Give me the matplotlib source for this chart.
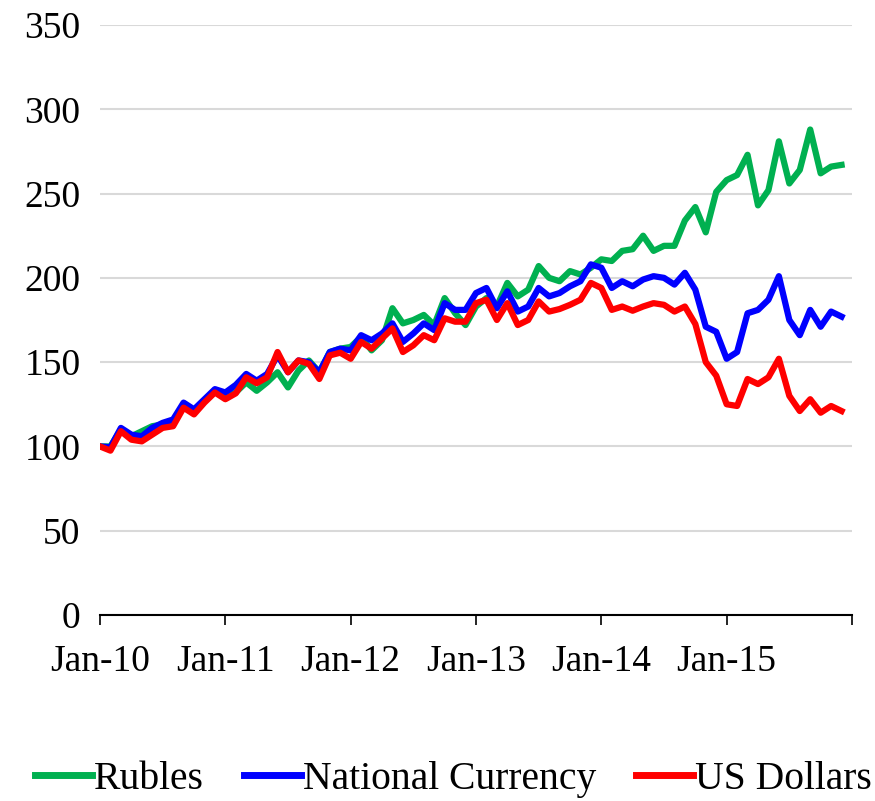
import matplotlib.pyplot as plt
import numpy as np

# monthly index values, Jan-10 .. Dec-15
rubles = [100, 100, 110, 106, 109, 112, 113, 114, 124, 121, 127, 133,
          129, 132, 138, 133, 138, 144, 135, 145, 151, 144, 156, 158,
          159, 165, 157, 163, 182, 173, 175, 178, 172, 188, 179, 172,
          183, 188, 183, 197, 189, 193, 207, 200, 198, 204, 202, 206,
          211, 210, 216, 217, 225, 216, 219, 219, 234, 242, 227, 251,
          258, 261, 273, 243, 252, 281, 256, 264, 288, 262, 266, 267]
national = [100, 99.5, 111, 107, 106, 111, 114, 116, 126, 122, 128, 134,
            132, 136.5, 143, 139, 143, 154, 144, 151, 150, 144, 156, 158,
            157, 166, 163, 167, 173, 162, 167, 173, 169, 185, 181, 181,
            191, 194, 182, 192, 180, 183, 194, 189, 191, 195, 198, 208,
            206, 194, 198, 195, 199, 201, 200, 196, 203, 193, 171, 168,
            152, 156, 179, 181, 187, 201, 175, 166, 181, 171, 180, 177]
dollars = [100, 97.5, 109, 104, 103, 107, 111, 112, 123, 119, 126, 132,
           128, 131.5, 141, 137.5, 141, 156, 144, 151, 149, 140, 154, 155.6,
           152, 162, 158, 164, 170, 156, 160, 166, 163, 176, 174, 174,
           185, 187, 175, 185, 172, 175, 186, 180, 181.5, 184, 187, 197,
           194, 181, 183, 180.5, 183, 185, 184, 180, 183, 172.6, 150, 142,
           125, 124, 140, 137, 141, 152, 130, 121, 128, 120, 124, 121]
year_labels = ['Jan-10', 'Jan-11', 'Jan-12', 'Jan-13', 'Jan-14', 'Jan-15']

plt.rcParams['font.family'] = ['Liberation Serif', 'DejaVu Serif']

months = np.arange(len(rubles))

fig = plt.figure(figsize=(8.75, 8.01), dpi=100)
ax = fig.add_axes([0.1143, 0.2322, 0.8594, 0.7366])

ax.plot(months, rubles, color='#00B050', lw=4.5, label='Rubles', solid_joinstyle='round')
ax.plot(months, national, color='#0000FF', lw=4.5, label='National Currency', solid_joinstyle='round')
ax.plot(months, dollars, color='#FF0000', lw=4.5, label='US Dollars', solid_joinstyle='round')

ax.set_xlim(0, 72)
ax.set_ylim(0, 350)
ax.set_yticks(range(0, 351, 50))
ax.set_xticks(range(0, 73, 12))
ax.set_xticklabels(year_labels + [''])
ax.grid(axis='y', color='#d9d9d9', lw=1.5)
ax.set_axisbelow(True)

for s in ['top', 'right', 'left']:
    ax.spines[s].set_visible(False)
ax.spines['bottom'].set_linewidth(1.5)
ax.tick_params(axis='y', length=0, pad=14, labelsize=27)
ax.tick_params(axis='x', length=7, width=1.2, direction='out', pad=14, labelsize=27)

leg = ax.legend(loc='lower center', bbox_to_anchor=(0.47, -0.37), ncol=3, frameon=False,
                fontsize=28.5, handlelength=1.45, handletextpad=0.05, columnspacing=1.0)
for h in leg.get_lines():
    h.set_linewidth(5)

fig.savefig('out.png', dpi=100)
